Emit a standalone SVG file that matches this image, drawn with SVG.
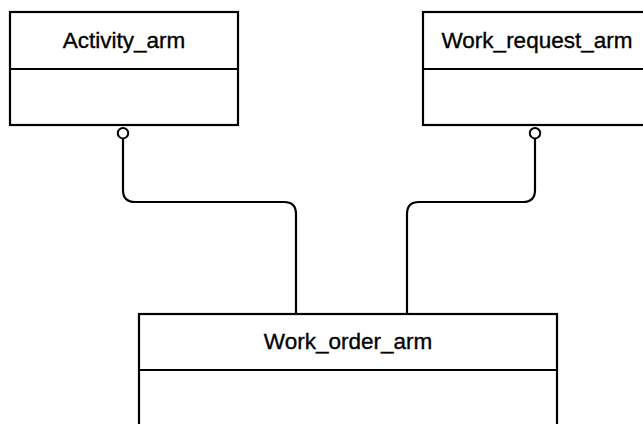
<svg xmlns="http://www.w3.org/2000/svg" width="643" height="424" viewBox="0 0 643 424">
<style>
.box{fill:#fff;stroke:#000;stroke-width:2.2}
.div{stroke:#000;stroke-width:2.2}
.lbl{font-family:"Liberation Sans",Arial,sans-serif;font-size:22.5px;fill:#000;stroke:#000;stroke-width:0.35;text-anchor:middle}
.con{fill:none;stroke:#000;stroke-width:2.2}
.end{fill:#fff;stroke:#000;stroke-width:2}
</style>
<rect width="643" height="424" fill="#fff"/>
<g id="connectors">
<path class="con" d="M123,139 V190 Q123,202 135,202 H284 Q296,202 296,214 V314"/>
<path class="con" d="M535,139 V190 Q535,202 523,202 H419 Q407,202 407,214 V314"/>
<circle class="end" cx="123" cy="133.2" r="5.2"/>
<circle class="end" cx="535" cy="133.2" r="5.2"/>
</g>
<g id="activity_arm">
<rect class="box" x="10" y="12" width="228" height="113"/>
<line class="div" x1="10" y1="69" x2="238" y2="69"/>
<text class="lbl" x="124" y="48">Activity_arm</text>
</g>
<g id="work_request_arm">
<rect class="box" x="423" y="12" width="228" height="113"/>
<line class="div" x1="423" y1="69" x2="651" y2="69"/>
<text class="lbl" x="537" y="48">Work_request_arm</text>
</g>
<g id="work_order_arm">
<rect class="box" x="139" y="314" width="418" height="120"/>
<line class="div" x1="139" y1="370" x2="557" y2="370"/>
<text class="lbl" x="348" y="349">Work_order_arm</text>
</g>
</svg>
